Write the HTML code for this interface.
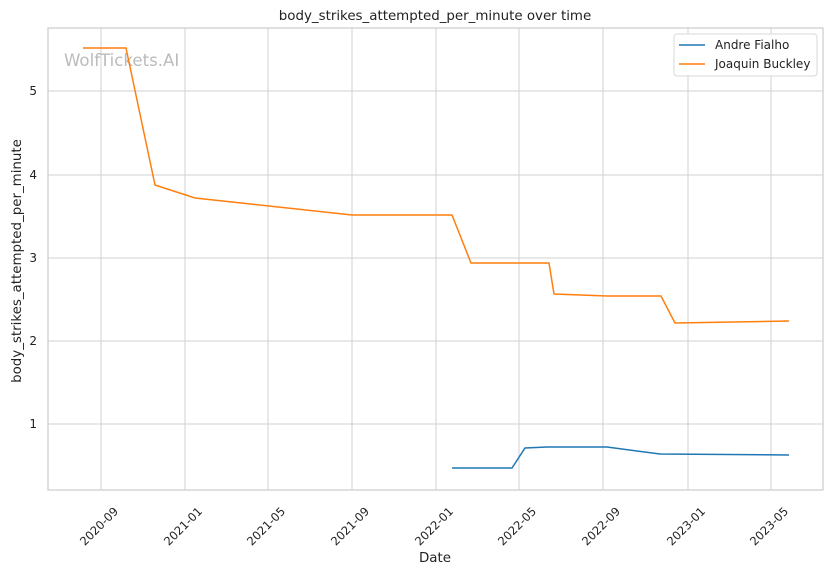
<!DOCTYPE html>
<html><head><meta charset="utf-8"><style>body{margin:0;background:#fff}svg{display:block}text{font-family:"DejaVu Sans","Liberation Sans",sans-serif;fill:#222}</style></head>
<body>
<svg width="832" height="575" xmlns="http://www.w3.org/2000/svg">
<rect width="832" height="575" fill="#fff"/>
<g stroke="#d0d0d0" stroke-width="1">
<line x1="101" y1="28" x2="101" y2="490"/><line x1="185" y1="28" x2="185" y2="490"/><line x1="268" y1="28" x2="268" y2="490"/><line x1="352" y1="28" x2="352" y2="490"/><line x1="436" y1="28" x2="436" y2="490"/><line x1="519" y1="28" x2="519" y2="490"/><line x1="603" y1="28" x2="603" y2="490"/><line x1="688" y1="28" x2="688" y2="490"/><line x1="771" y1="28" x2="771" y2="490"/>
<line x1="48" y1="91" x2="823" y2="91"/><line x1="48" y1="175" x2="823" y2="175"/><line x1="48" y1="258" x2="823" y2="258"/><line x1="48" y1="341" x2="823" y2="341"/><line x1="48" y1="424" x2="823" y2="424"/>
</g>
<rect x="48" y="28" width="775" height="462" fill="none" stroke="#cccccc" stroke-width="1.2"/>
<text x="64" y="66" font-size="16.6" style="fill:#bbb">WolfTickets.AI</text>
<polyline fill="none" stroke="#ff7f0e" stroke-width="1.5" points="83,48 126,48 155,185 195,198 352,215 452,215 471,263 549,263 554,294 607,296 661,296 675,323 789,321"/>
<polyline fill="none" stroke="#1f77b4" stroke-width="1.5" points="452,468 512,468 525,448 547,447 607,447 660,454 789,455"/>
<g font-size="12" text-anchor="end">
<text x="37" y="95">5</text><text x="37" y="179">4</text><text x="37" y="262">3</text><text x="37" y="345">2</text><text x="37" y="428">1</text>
</g>
<g font-size="11.6" text-anchor="end">
<text transform="translate(119,512) rotate(-45)">2020-09</text>
<text transform="translate(203,512) rotate(-45)">2021-01</text>
<text transform="translate(286,512) rotate(-45)">2021-05</text>
<text transform="translate(370,512) rotate(-45)">2021-09</text>
<text transform="translate(454,512) rotate(-45)">2022-01</text>
<text transform="translate(537,512) rotate(-45)">2022-05</text>
<text transform="translate(621,512) rotate(-45)">2022-09</text>
<text transform="translate(706,512) rotate(-45)">2023-01</text>
<text transform="translate(789,512) rotate(-45)">2023-05</text>
</g>
<text x="435" y="562" font-size="13.4" text-anchor="middle">Date</text>
<text transform="translate(21,261) rotate(-90)" font-size="13.4" text-anchor="middle">body_strikes_attempted_per_minute</text>
<text x="435" y="20" font-size="13.4" text-anchor="middle">body_strikes_attempted_per_minute over time</text>
<rect x="674" y="34" width="143" height="42" fill="#fff" stroke="#d8d8d8" rx="3"/>
<line x1="679" y1="45" x2="705" y2="45" stroke="#1f77b4" stroke-width="1.5"/>
<line x1="679" y1="64" x2="705" y2="64" stroke="#ff7f0e" stroke-width="1.5"/>
<text x="715" y="49" font-size="12">Andre Fialho</text>
<text x="715" y="68" font-size="12">Joaquin Buckley</text>
</svg>
</body></html>
